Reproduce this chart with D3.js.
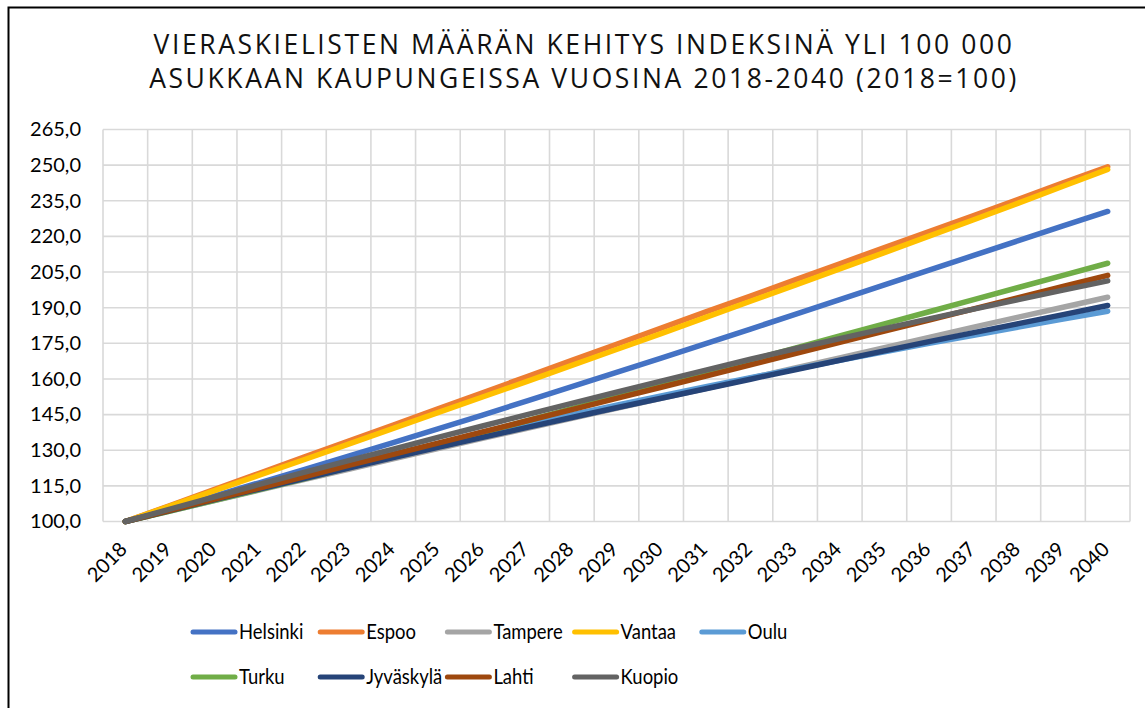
<!DOCTYPE html>
<html>
<head>
<meta charset="utf-8">
<script src="https://cdn.jsdelivr.net/npm/d3@7"></script>
<style>
  html, body { margin: 0; padding: 0; background: #fff; }
  svg { display: block; }
</style>
</head>
<body>
<svg id="chart" width="1145" height="708"></svg>
<script>
// Years on the category axis
const years = ["2018","2019","2020","2021","2022","2023","2024","2025","2026","2027","2028",
  "2029","2030","2031","2032","2033","2034","2035","2036","2037","2038","2039","2040"];

// Index values (2018 = 100) per city
const helsinki = [100.0,105.4,110.8,116.3,121.8,127.5,133.2,139.0,144.8,150.8,156.8,162.8,168.8,174.9,181.0,187.2,193.4,199.6,205.8,212.0,218.2,224.4,230.5];
const espoo    = [100.0,106.7,113.5,120.3,127.1,133.9,140.6,147.4,154.2,161.0,167.8,174.6,181.4,188.2,194.9,201.7,208.5,215.3,222.0,228.8,235.6,242.5,249.3];
const tampere  = [100.0,104.4,108.8,113.2,117.6,122.0,126.4,130.7,135.0,139.2,143.4,147.6,151.8,156.0,160.3,164.6,168.9,173.2,177.5,181.8,186.0,190.2,194.4];
const vantaa   = [100.0,106.5,113.0,119.5,126.0,132.6,139.2,145.8,152.4,159.0,165.7,172.4,179.1,185.9,192.7,199.5,206.3,213.2,220.1,227.0,234.0,241.1,248.2];
const oulu     = [100.0,104.8,109.6,114.3,118.9,123.5,128.0,132.4,136.7,140.9,145.0,149.0,152.9,156.7,160.5,164.2,167.8,171.4,175.0,178.4,181.8,185.2,188.5];
const turku    = [100.0,104.4,108.9,113.4,118.0,122.7,127.5,132.4,137.4,142.4,147.5,152.6,157.7,162.8,167.9,173.0,178.1,183.2,188.3,193.4,198.5,203.6,208.7];
const jyvaskyla= [100.0,104.6,109.2,113.7,118.1,122.5,126.9,131.2,135.4,139.6,143.8,147.9,151.9,155.9,159.9,163.9,167.9,171.8,175.7,179.5,183.3,187.1,190.9];
const lahti    = [100.0,104.7,109.4,114.1,118.8,123.6,128.3,133.0,137.7,142.4,147.1,151.8,156.5,161.2,165.9,170.7,175.4,180.1,184.8,189.5,194.2,198.9,203.6];
const kuopio   = [100.0,105.2,110.4,115.6,120.7,125.6,130.5,135.4,140.2,145.0,149.7,154.4,159.1,163.7,168.3,172.7,177.0,181.2,185.3,189.4,193.4,197.4,201.3];

const cityNames  = ["Helsinki","Espoo","Tampere","Vantaa","Oulu","Turku","Jyväskylä","Lahti","Kuopio"];
const cityValues = [helsinki, espoo, tampere, vantaa, oulu, turku, jyvaskyla, lahti, kuopio];
const cityColors = ["#4472c4","#ed7d31","#a5a5a5","#ffc000","#5b9bd5","#70ad47","#264478","#9e480e","#636363"];

const yTicks = [100,115,130,145,160,175,190,205,220,235,250,265];
const titleLines = ["VIERASKIELISTEN MÄÄRÄN KEHITYS INDEKSINÄ YLI 100 000",
                    "ASUKKAAN KAUPUNGEISSA VUOSINA 2018-2040 (2018=100)"];

const series = cityNames.map((name, i) => ({ name, color: cityColors[i], values: cityValues[i] }));

const svg = d3.select("#chart");
const plot = { left: 103, right: 1130, top: 129.5, bottom: 521.5 };

// Frame of the chart area
svg.append("path")
  .attr("d", "M8.5,710 L8.5,7.5 L1150,7.5")
  .attr("fill", "none").attr("stroke", "#000").attr("stroke-width", 2);

// Title
svg.append("g").selectAll("text").data(titleLines).join("text")
  .attr("x", 584).attr("y", (d, i) => 53.5 + i * 34)
  .attr("text-anchor", "middle")
  .attr("font-family", "'Open Sans', sans-serif")
  .attr("font-size", 26.5)
  .attr("letter-spacing", 2.6)
  .attr("fill", "#111")
  .text(d => d);

const x = d3.scaleBand().domain(years).range([plot.left, plot.right]).padding(0);
const y = d3.scaleLinear().domain([100, 265]).range([plot.bottom, plot.top]);

// Grid
const grid = svg.append("g").attr("stroke", "#d9d9d9").attr("stroke-width", 1.6);
grid.selectAll("line.h").data(yTicks).join("line").attr("class", "h")
  .attr("x1", plot.left).attr("x2", plot.right)
  .attr("y1", d => y(d)).attr("y2", d => y(d));
const edges = years.map(d => x(d)).concat([x(years[years.length - 1]) + x.bandwidth()]);
grid.selectAll("line.v").data(edges).join("line").attr("class", "v")
  .attr("x1", d => d).attr("x2", d => d)
  .attr("y1", plot.top).attr("y2", plot.bottom);

// Y axis labels
const yAxis = d3.axisLeft(y).tickValues(yTicks)
  .tickFormat(d => d3.format(".1f")(d).replace(".", ","))
  .tickSize(0).tickPadding(22);
const yg = svg.append("g").attr("transform", `translate(${plot.left},0)`).call(yAxis);
yg.select(".domain").remove();
yg.selectAll("text")
  .attr("font-family", "Lato, sans-serif").attr("font-size", 20).attr("fill", "#000");

// X axis labels, rotated
const xAxis = d3.axisBottom(x).tickSize(0).tickPadding(0);
const xg = svg.append("g").attr("transform", `translate(0,${plot.bottom})`).call(xAxis);
xg.select(".domain").remove();
xg.selectAll("text")
  .attr("font-family", "Lato, sans-serif").attr("font-size", 20).attr("fill", "#000")
  .attr("text-anchor", "end")
  .attr("dy", 0)
  .attr("transform", "translate(3,29) rotate(-45)");

// Lines
const line = d3.line()
  .x((d, i) => x(years[i]) + x.bandwidth() / 2)
  .y(d => y(d));
svg.append("g").selectAll("path").data(series).join("path")
  .attr("d", d => line(d.values))
  .attr("fill", "none")
  .attr("stroke", d => d.color)
  .attr("stroke-width", 5.5)
  .attr("stroke-linecap", "round")
  .attr("stroke-linejoin", "round");

// Legend
const legend = svg.append("g");
const items = legend.selectAll("g").data(series).join("g")
  .attr("transform", (d, i) => `translate(${193 + (i % 5) * 127.2},${i < 5 ? 632 : 677})`);
items.append("line")
  .attr("x1", 0).attr("x2", 42)
  .attr("stroke", d => d.color).attr("stroke-width", 5).attr("stroke-linecap", "round");
items.append("text")
  .attr("transform", "translate(46,0) scale(0.9,1)")
  .attr("dy", "0.36em")
  .attr("font-family", "Lato, sans-serif").attr("font-size", 20.5).attr("fill", "#000")
  .text(d => d.name);
</script>
</body>
</html>
